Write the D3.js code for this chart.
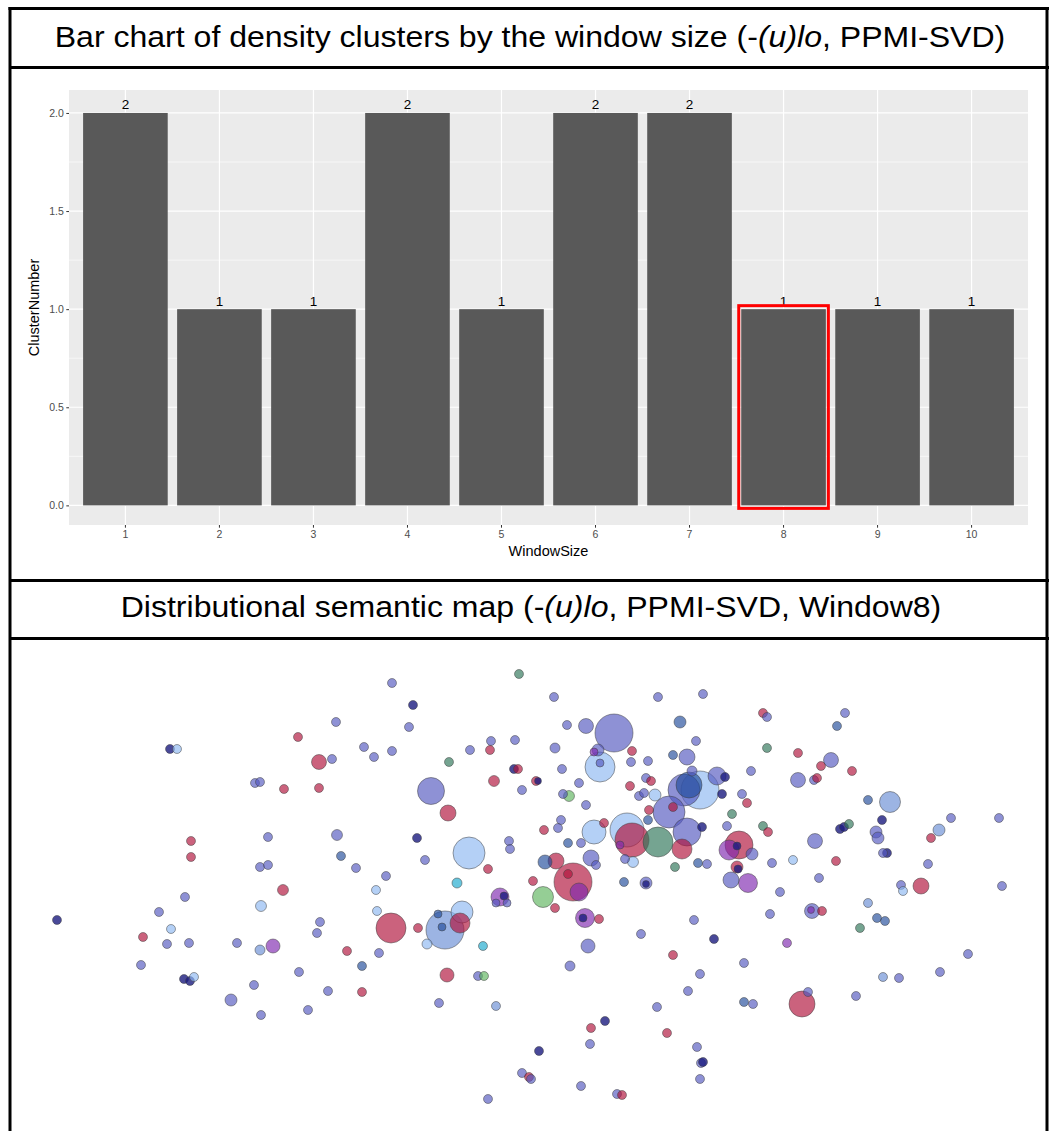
<!DOCTYPE html>
<html>
<head>
<meta charset="utf-8">
<script src="https://cdn.jsdelivr.net/npm/d3@7"></script>
<style>
  body { margin: 0; background: #fff; }
  svg { display: block; font-family: "Liberation Sans", Arial, sans-serif; }
</style>
</head>
<body>
<script>
// bar chart data
var windowSizes = ["1", "2", "3", "4", "5", "6", "7", "8", "9", "10"];
var clusterNumbers = [2, 1, 1, 2, 1, 2, 2, 1, 1, 1];
var yTicks = [0, 0.5, 1, 1.5, 2];
var yMinor = [0.25, 0.75, 1.25, 1.75];
var highlightWindow = "8";

// semantic map: [dim1, dim2, frequency, group]
var mapPoints = [
  [326,82,20,"b"],[288,97,20,"r"],[160,109,20,"n"],[167,109,20,"l"],[309,122,56,"r"],
  [322,119,20,"b"],[245,143,20,"b"],[250,142,20,"b"],[274,149,20,"r"],[309,148,20,"r"],
  [181,201,20,"r"],[258,197,20,"b"],[327,195,30,"b"],[181,217,20,"r"],[331,216,20,"s"],
  [250,227,20,"b"],[258,225,20,"b"],[346,228,20,"b"],[273,250,30,"r"],[175,257,20,"b"],
  [47,280,20,"n"],[149,272,20,"b"],[251,266,30,"l"],[310,282,20,"b"],[307,293,20,"b"],
  [161,289,20,"l"],[133,297,20,"r"],[157,304,20,"b"],[179,303,20,"b"],[227,303,20,"b"],
  [250,310,25,"k"],[263,306,49,"p"],[337,311,20,"r"],[131,325,20,"b"],[174,339,20,"n"],
  [180,341,20,"n"],[184,337,20,"l"],[289,332,20,"b"],[244,345,20,"b"],[318,351,20,"b"],
  [221,360,36,"b"],[251,375,20,"b"],[298,370,20,"b"],[352,326,20,"s"],[352,352,20,"r"],
  [382,43,20,"b"],[509,34,20,"g"],[403,65,20,"n"],[544,57,20,"b"],[648,57,20,"b"],
  [399,87,20,"b"],[557,85,20,"b"],[576,86,56,"b"],[604,93,361,"b"],[670,82,36,"s"],
  [354,107,20,"b"],[364,117,20,"b"],[382,111,20,"b"],[460,110,20,"b"],[481,101,20,"b"],
  [480,110,20,"r"],[505,100,20,"b"],[545,108,25,"b"],[439,122,20,"g"],[588,110,36,"b"],
  [584,112,16,"p"],[622,111,20,"r"],[621,122,20,"b"],[638,121,20,"b"],[663,115,20,"s"],
  [677,117,64,"b"],[686,101,20,"b"],[590,127,225,"l"],[590,123,16,"b"],[552,129,20,"b"],
  [504,129,20,"n"],[508,129,20,"r"],[484,141,30,"r"],[526,141,20,"r"],[528,141,12,"n"],
  [512,150,20,"b"],[569,143,20,"b"],[421,151,182,"b"],[438,173,64,"r"],[553,154,20,"b"],
  [559,156,30,"G"],[620,146,20,"r"],[576,165,20,"b"],[629,156,20,"b"],[634,153,20,"b"],
  [636,138,20,"b"],[641,141,20,"r"],[645,155,36,"l"],[674,150,256,"b"],[679,145,169,"s"],
  [690,150,361,"l"],[663,167,20,"r"],[639,170,20,"r"],[659,172,256,"b"],[677,192,196,"b"],
  [594,183,20,"r"],[551,180,20,"b"],[548,188,20,"b"],[534,190,20,"r"],[584,192,144,"l"],
  [617,190,289,"l"],[622,200,289,"r"],[610,205,16,"p"],[648,202,225,"g"],[672,209,100,"r"],
  [638,180,20,"s"],[407,198,20,"n"],[459,213,256,"l"],[499,201,20,"b"],[500,209,20,"b"],
  [558,203,20,"s"],[571,203,20,"b"],[415,220,20,"b"],[376,236,20,"b"],[478,229,20,"r"],
  [535,222,49,"s"],[546,221,64,"r"],[581,218,64,"b"],[586,225,20,"b"],[623,222,30,"l"],
  [615,219,20,"b"],[665,227,20,"g"],[688,223,20,"s"],[366,250,20,"l"],[447,243,25,"c"],
  [523,241,20,"r"],[563,242,361,"r"],[558,234,20,"r"],[569,252,81,"p"],[614,242,20,"s"],
  [636,243,36,"b"],[636,244,12,"n"],[533,257,110,"G"],[490,257,81,"p"],[494,256,16,"n"],
  [486,263,16,"b"],[497,263,16,"b"],[545,268,20,"r"],[575,278,90,"p"],[573,278,16,"n"],
  [589,279,20,"r"],[367,271,20,"l"],[381,288,225,"r"],[408,288,20,"r"],[435,290,361,"k"],
  [452,272,121,"l"],[450,283,100,"r"],[428,274,16,"s"],[432,287,16,"s"],[417,304,25,"l"],
  [473,306,20,"c"],[369,313,20,"b"],[437,335,49,"r"],[468,336,20,"b"],[474,336,20,"G"],
  [429,363,20,"b"],[486,366,20,"k"],[578,306,49,"b"],[560,326,25,"b"],[631,294,20,"b"],
  [684,280,20,"b"],[663,315,20,"r"],[690,334,20,"b"],[678,351,20,"b"],[647,367,20,"b"],
  [595,381,20,"n"],[581,388,20,"r"],[657,393,20,"r"],[580,404,20,"b"],[687,407,20,"b"],
  [529,411,20,"n"],[691,423,20,"b"],[693,422,20,"n"],[512,433,20,"b"],[519,437,20,"r"],
  [521,439,20,"b"],[571,446,20,"b"],[607,454,20,"b"],[612,455,20,"r"],[478,459,20,"b"],
  [690,439,20,"b"],[693,54,20,"b"],[753,73,20,"r"],[757,77,20,"b"],[835,73,20,"b"],
  [827,86,20,"s"],[757,108,20,"g"],[788,113,20,"r"],[821,120,56,"b"],[811,126,20,"r"],
  [842,131,20,"r"],[682,131,25,"b"],[707,136,81,"b"],[715,137,20,"n"],[741,131,20,"b"],
  [788,140,56,"b"],[804,140,20,"b"],[807,138,20,"r"],[712,154,20,"n"],[732,154,20,"b"],
  [737,163,20,"r"],[722,174,20,"g"],[717,186,20,"b"],[692,187,20,"n"],[753,186,20,"g"],
  [758,192,20,"r"],[858,160,20,"s"],[880,162,110,"k"],[872,180,20,"n"],[830,189,20,"n"],
  [834,187,20,"n"],[839,184,20,"g"],[941,178,20,"b"],[989,178,20,"b"],[929,190,36,"k"],
  [866,192,36,"b"],[868,198,36,"b"],[921,198,20,"r"],[805,201,56,"b"],[729,205,196,"r"],
  [719,210,100,"p"],[727,206,16,"n"],[742,214,36,"b"],[877,213,20,"n"],[873,213,20,"b"],
  [826,221,20,"r"],[783,220,20,"l"],[762,223,20,"b"],[697,224,20,"b"],[727,227,36,"r"],
  [728,229,16,"n"],[721,240,64,"b"],[738,243,90,"p"],[809,238,20,"b"],[770,252,20,"b"],
  [918,224,20,"b"],[891,245,20,"b"],[893,251,20,"l"],[911,246,64,"r"],[992,246,20,"b"],
  [704,299,20,"n"],[760,274,20,"b"],[802,271,56,"b"],[801,270,12,"p"],[812,271,20,"r"],
  [858,263,20,"k"],[867,278,20,"s"],[875,281,20,"s"],[850,288,20,"g"],[777,303,20,"p"],
  [734,323,20,"b"],[734,362,20,"s"],[743,364,20,"b"],[792,364,169,"r"],[798,352,20,"b"],
  [846,356,20,"b"],[873,337,20,"k"],[889,338,20,"b"],[930,332,20,"b"],[958,314,20,"b"]
];

var groupColors = {
  b: "#5458bf", r: "#b0103a", l: "#8db7f1", n: "#1c1c80", g: "#2e7558",
  G: "#5eb45e", p: "#7f29b0", c: "#1aa9cd", s: "#214c9b", k: "#698dd4"
};

var svg_width = 1049;
var svg_height = 1131;

var svg = d3.select("body").append("svg")
  .attr("width", svg_width)
  .attr("height", svg_height);

// ---- bar chart panel ----
var panel = { left: 69, right: 1028, top: 90, bottom: 525 };

var x = d3.scaleBand()
  .domain(windowSizes)
  .range([panel.left, panel.right])
  .paddingInner(0.1)
  .paddingOuter(0.15);

var y = d3.scaleLinear()
  .domain([-0.1, 2.117])
  .range([panel.bottom, panel.top]);

svg.append("rect")
  .attr("x", panel.left)
  .attr("y", panel.top)
  .attr("width", panel.right - panel.left)
  .attr("height", panel.bottom - panel.top)
  .attr("fill", "#ebebeb");

// minor grid
svg.selectAll(".minor").data(yMinor).enter().append("line")
  .attr("x1", panel.left).attr("x2", panel.right)
  .attr("y1", function(d) { return y(d); })
  .attr("y2", function(d) { return y(d); })
  .attr("stroke", "#fff").attr("stroke-width", 0.6);

// major grid
svg.selectAll(".major").data(yTicks).enter().append("line")
  .attr("x1", panel.left).attr("x2", panel.right)
  .attr("y1", function(d) { return y(d); })
  .attr("y2", function(d) { return y(d); })
  .attr("stroke", "#fff").attr("stroke-width", 1.2);

svg.selectAll(".vgrid").data(windowSizes).enter().append("line")
  .attr("x1", function(d) { return x(d) + x.bandwidth() / 2; })
  .attr("x2", function(d) { return x(d) + x.bandwidth() / 2; })
  .attr("y1", panel.top).attr("y2", panel.bottom)
  .attr("stroke", "#fff").attr("stroke-width", 1.2);

// bars
svg.selectAll(".bar").data(windowSizes).enter().append("rect")
  .attr("x", function(d) { return x(d); })
  .attr("y", function(d, i) { return y(clusterNumbers[i]); })
  .attr("width", x.bandwidth())
  .attr("height", function(d, i) { return y(0) - y(clusterNumbers[i]); })
  .attr("fill", "#595959");

// bar labels
svg.selectAll(".barlabel").data(windowSizes).enter().append("text")
  .attr("x", function(d) { return x(d) + x.bandwidth() / 2; })
  .attr("y", function(d, i) { return y(clusterNumbers[i]) - 3.5; })
  .attr("text-anchor", "middle")
  .attr("font-size", 13.5)
  .attr("fill", "#000")
  .text(function(d, i) { return clusterNumbers[i]; });

// axes
var yAxis = svg.append("g")
  .attr("transform", "translate(" + panel.left + ",0)")
  .call(d3.axisLeft(y).tickValues(yTicks).tickFormat(d3.format(".1f")).tickSize(2.7).tickPadding(2.5));
yAxis.select(".domain").remove();
yAxis.selectAll("line").attr("stroke", "#333").attr("stroke-width", 1);
yAxis.selectAll("text").attr("fill", "#4d4d4d").attr("font-size", 10.5)
  .attr("font-family", "Liberation Sans, Arial, sans-serif");

var xAxis = svg.append("g")
  .attr("transform", "translate(0," + panel.bottom + ")")
  .call(d3.axisBottom(x).tickSize(2.7).tickPadding(3));
xAxis.select(".domain").remove();
xAxis.selectAll("line").attr("stroke", "#333").attr("stroke-width", 1);
xAxis.selectAll("text").attr("fill", "#4d4d4d").attr("font-size", 10.5)
  .attr("font-family", "Liberation Sans, Arial, sans-serif");

svg.append("text")
  .attr("x", (panel.left + panel.right) / 2)
  .attr("y", 556)
  .attr("text-anchor", "middle")
  .attr("font-size", 14.5)
  .text("WindowSize");

svg.append("text")
  .attr("transform", "translate(39," + ((panel.top + panel.bottom) / 2) + ") rotate(-90)")
  .attr("text-anchor", "middle")
  .attr("font-size", 14.5)
  .text("ClusterNumber");

// red highlight on window 8
svg.append("rect")
  .attr("x", x(highlightWindow) - 2.5)
  .attr("y", y(1) - 3.5)
  .attr("width", x.bandwidth() + 5)
  .attr("height", y(0) - y(1) + 6.5)
  .attr("fill", "none")
  .attr("stroke", "#ff0000")
  .attr("stroke-width", 3);

// ---- semantic map ----
var mapLeft = 10, mapTop = 640, mapW = 1039, mapH = 491;

var mx = d3.scaleLinear().domain([0, mapW]).range([mapLeft, mapLeft + mapW]);
var my = d3.scaleLinear().domain([0, mapH]).range([mapTop, mapTop + mapH]);
var rScale = d3.scaleSqrt().domain([0, 400]).range([0, 20]);

var sorted = mapPoints.slice().sort(function(a, b) { return b[2] - a[2]; });

svg.append("g").selectAll("circle").data(sorted).enter().append("circle")
  .attr("cx", function(d) { return mx(d[0]); })
  .attr("cy", function(d) { return my(d[1]); })
  .attr("r", function(d) { return rScale(d[2]); })
  .attr("fill", function(d) { return groupColors[d[3]]; })
  .attr("fill-opacity", function(d) { return d[3] === "n" ? 0.8 : 0.66; })
  .attr("stroke", "#404040")
  .attr("stroke-opacity", 0.5)
  .attr("stroke-width", 1);

// ---- frame and titles ----
var frame = svg.append("g").attr("stroke", "#000").attr("stroke-width", 3);
frame.append("line").attr("x1", 8.5).attr("x2", 1049).attr("y1", 8.5).attr("y2", 8.5);
frame.append("line").attr("x1", 10).attr("x2", 10).attr("y1", 7).attr("y2", svg_height);
frame.append("line").attr("x1", 1047).attr("x2", 1047).attr("y1", 7).attr("y2", svg_height);
frame.append("line").attr("x1", 10).attr("x2", 1049).attr("y1", 67.5).attr("y2", 67.5);
frame.append("line").attr("x1", 10).attr("x2", 1049).attr("y1", 580.5).attr("y2", 580.5);
frame.append("line").attr("x1", 10).attr("x2", 1049).attr("y1", 638.5).attr("y2", 638.5);

// titles are slightly wide in the original, so stretch them horizontally
var t1 = svg.append("text")
  .attr("transform", "translate(530,47) scale(1.105,1)")
  .attr("text-anchor", "middle")
  .attr("font-size", 29);
t1.append("tspan").text("Bar chart of density clusters by the window size (-");
t1.append("tspan").attr("font-style", "italic").text("(u)lo");
t1.append("tspan").text(", PPMI-SVD)");

var t2 = svg.append("text")
  .attr("transform", "translate(531,617) scale(1.105,1)")
  .attr("text-anchor", "middle")
  .attr("font-size", 29);
t2.append("tspan").text("Distributional semantic map (-");
t2.append("tspan").attr("font-style", "italic").text("(u)lo");
t2.append("tspan").text(", PPMI-SVD, Window8)");
</script>
</body>
</html>
